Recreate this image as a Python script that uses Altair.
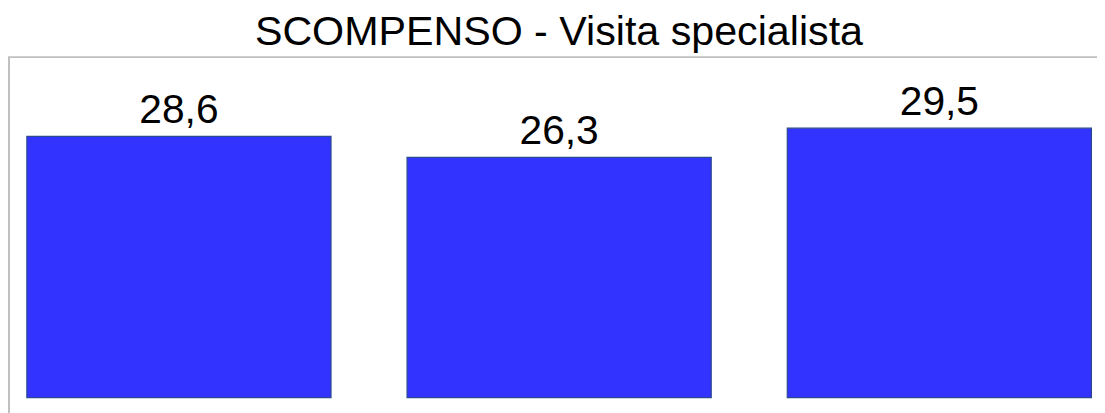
import altair as alt
import pandas as pd

categorie = ["Periodo 1", "Periodo 2", "Periodo 3"]
valori = [28.6, 26.3, 29.5]
titolo = "SCOMPENSO - Visita specialista"

df = pd.DataFrame({"categoria": categorie, "valore": valori})

FONT = "Liberation Sans"

base = alt.Chart(df).encode(
    x=alt.X("categoria:N", sort=categorie, axis=None,
            scale=alt.Scale(paddingInner=0.2, paddingOuter=0.0321, align=0.772)),
    y=alt.Y("valore:Q", axis=None, scale=alt.Scale(domain=[0, 37.28], nice=False, zero=True)),
)

bars = base.mark_bar(color="#3333FF", stroke="#2b4a8e", strokeWidth=1.2)

labels = base.transform_calculate(
    etichetta="replace(format(datum.valore, '.1f'), '.', ',')"
).mark_text(
    font=FONT, fontSize=41, color="black", baseline="alphabetic", align="center", dy=-13.5
).encode(text="etichetta:N")

frame = alt.Chart(df).mark_rect(
    fill="transparent", stroke="#c0c0c0", strokeWidth=2
).encode(
    x=alt.value(1), x2=alt.value(1400), y=alt.value(0), y2=alt.value(700)
).transform_filter("datum.categoria == 'Periodo 1'")

chart = alt.layer(frame, bars, labels).properties(
    width=1097,
    height=343,
    autosize=alt.AutoSizeParams(type="none"),
    padding={"left": 0, "top": 48, "right": 0, "bottom": 14},
    title=alt.TitleParams(text=titolo, font=FONT, fontSize=41.5, fontWeight="normal",
                          color="black", anchor="middle", offset=3, dx=6.5),
).configure_view(stroke="transparent")

chart.save("out.html", embed_options={"renderer": "svg", "actions": False})
